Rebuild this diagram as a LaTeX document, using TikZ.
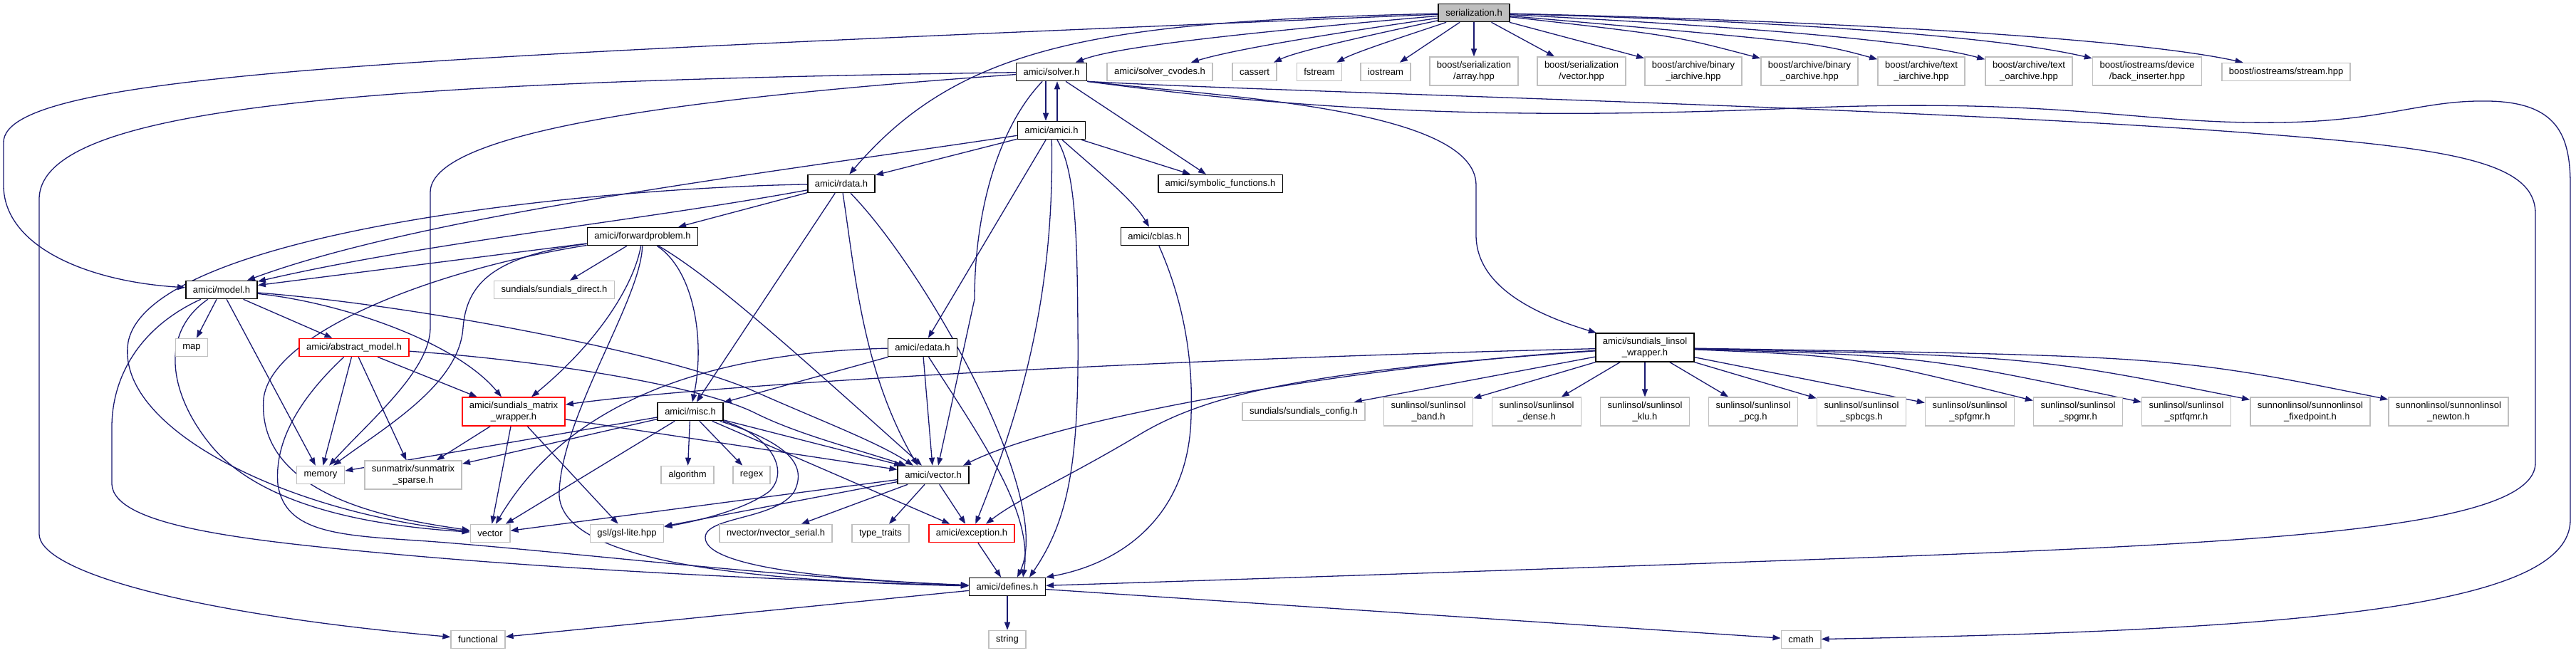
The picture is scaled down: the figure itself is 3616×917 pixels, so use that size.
\documentclass[tikz,border=0pt]{standalone}
\usepackage{fontspec}
\setmainfont{Liberation Sans}
\usetikzlibrary{arrows.meta,backgrounds}
\definecolor{edgeblue}{HTML}{191970}
\definecolor{extgray}{HTML}{BFBFBF}
\definecolor{truncred}{HTML}{FF0000}
\definecolor{rootgray}{HTML}{BFBFBF}
\tikzset{
  base/.style={rectangle, font=\fontsize{13}{15.5}\selectfont, inner xsep=10pt, inner ysep=6pt, minimum height=25pt, align=center, fill=white, line width=1.6pt},
  hdr/.style={base, draw=black},
  ext/.style={base, draw=extgray},
  trunc/.style={base, draw=truncred},
  rootnode/.style={base, draw=black, fill=rootgray},
  e/.style={draw=edgeblue, line width=1.3pt, -{Triangle[length=11pt,width=8pt]}}
}
\begin{document}
\begin{tikzpicture}[x=1pt,y=-1pt]
\useasboundingbox (0,0) rectangle (3616,917);
% nodes
\node[rootnode] (S) at (2069,18) {serialization.h};
\node[hdr] (SO) at (1476,101) {amici/solver.h};
\node[ext] (CV) at (1628,101) {amici/solver\_cvodes.h};
\node[ext] (CAS) at (1761,101) {cassert};
\node[ext] (FST) at (1852,101) {fstream};
\node[ext] (IOS) at (1945,101) {iostream};
\node[ext] (BAR) at (2069,100) {boost/serialization\\/array.hpp};
\node[ext] (BVE) at (2220,100) {boost/serialization\\/vector.hpp};
\node[ext] (BBI) at (2377,100) {boost/archive/binary\\\_iarchive.hpp};
\node[ext] (BBO) at (2540,100) {boost/archive/binary\\\_oarchive.hpp};
\node[ext] (BTI) at (2697,100) {boost/archive/text\\\_iarchive.hpp};
\node[ext] (BTO) at (2848,100) {boost/archive/text\\\_oarchive.hpp};
\node[ext] (BBK) at (3014,100) {boost/iostreams/device\\/back\_inserter.hpp};
\node[ext] (BST) at (3209,101) {boost/iostreams/stream.hpp};
\node[hdr] (AM) at (1476,183) {amici/amici.h};
\node[hdr] (RD) at (1181,258) {amici/rdata.h};
\node[hdr] (SYM) at (1713,258) {amici/symbolic\_functions.h};
\node[hdr] (FW) at (902,332) {amici/forwardproblem.h};
\node[hdr] (CB) at (1621,332) {amici/cblas.h};
\node[hdr] (MO) at (311,407) {amici/model.h};
\node[ext] (SD) at (778,407) {sundials/sundials\_direct.h};
\node[ext] (MAP) at (269,488) {map};
\node[trunc] (AB) at (497,488) {amici/abstract\_model.h};
\node[hdr] (ED) at (1295,488) {amici/edata.h};
\node[hdr] (LW) at (2309,488) {amici/sundials\_linsol\\\_wrapper.h};
\node[trunc] (SMW) at (721,578) {amici/sundials\_matrix\\\_wrapper.h};
\node[hdr] (MI) at (969,578) {amici/misc.h};
\node[ext] (CFG) at (1830,578) {sundials/sundials\_config.h};
\node[ext] (LBA) at (2005,578) {sunlinsol/sunlinsol\\\_band.h};
\node[ext] (LDE) at (2157,578) {sunlinsol/sunlinsol\\\_dense.h};
\node[ext] (LKL) at (2309,578) {sunlinsol/sunlinsol\\\_klu.h};
\node[ext] (LPC) at (2461,578) {sunlinsol/sunlinsol\\\_pcg.h};
\node[ext] (LSB) at (2613,578) {sunlinsol/sunlinsol\\\_spbcgs.h};
\node[ext] (LSF) at (2765,578) {sunlinsol/sunlinsol\\\_spfgmr.h};
\node[ext] (LSG) at (2917,578) {sunlinsol/sunlinsol\\\_spgmr.h};
\node[ext] (LST) at (3069,578) {sunlinsol/sunlinsol\\\_sptfqmr.h};
\node[ext] (NFP) at (3243,578) {sunnonlinsol/sunnonlinsol\\\_fixedpoint.h};
\node[ext] (NNE) at (3437,578) {sunnonlinsol/sunnonlinsol\\\_newton.h};
\node[ext] (MEM) at (450,667) {memory};
\node[ext] (SUN) at (580,667) {sunmatrix/sunmatrix\\\_sparse.h};
\node[ext] (ALG) at (965,667) {algorithm};
\node[ext] (REG) at (1055,667) {regex};
\node[hdr] (VH) at (1310,667) {amici/vector.h};
\node[ext] (VEC) at (688,749) {vector};
\node[ext] (GSL) at (880,749) {gsl/gsl-lite.hpp};
\node[ext] (NVS) at (1089,749) {nvector/nvector\_serial.h};
\node[ext] (TT) at (1236,749) {type\_traits};
\node[trunc] (EXC) at (1364,749) {amici/exception.h};
\node[hdr] (DEF) at (1414,824) {amici/defines.h};
\node[ext] (FUN) at (671,898) {functional};
\node[ext] (STR) at (1414,898) {string};
\node[ext] (CM) at (2528,898) {cmath};
\begin{scope}[on background layer]
% serialization.h
\draw[e] (S) .. controls (600,80) and (5,100) .. (5,200) -- (5,260) .. controls (5,345) and (120,395) .. (MO);
\draw[e] (S) .. controls (1550,30) and (1350,60) .. (RD);
\draw[e] (S) .. controls (1700,50) and (1560,68) .. (SO);
\draw[e] (S) .. controls (1850,50) and (1730,70) .. (CV);
\draw[e] (S) .. controls (1920,50) and (1820,72) .. (CAS);
\draw[e] (S) .. controls (1990,45) and (1905,72) .. (FST);
\draw[e] (S) -- (IOS);
\draw[e] (S) -- (BAR);
\draw[e] (S) -- (BVE);
\draw[e] (S) -- (BBI);
\draw[e] (S) .. controls (2350,50) .. (BBO);
\draw[e] (S) .. controls (2550,60) .. (BTI);
\draw[e] (S) .. controls (2500,40) and (2700,60) .. (BTO);
\draw[e] (S) .. controls (2500,30) and (2800,50) .. (BBK);
\draw[e] (S) .. controls (2600,30) and (3000,55) .. (BST);
% solver.h
\draw[e] ([xshift=-8pt]SO.south) -- ([xshift=-8pt]AM.north);
\draw[e] ([xshift=8pt]AM.north) -- ([xshift=8pt]SO.south);
\draw[e] (SO) .. controls (500,115) and (55,150) .. (55,280) -- (55,750) .. controls (55,800) and (250,860) .. (FUN);
\draw[e] (SO) .. controls (1000,135) and (604,180) .. (604,270) -- (604,460) .. controls (604,520) and (520,590) .. (MEM);
\draw[e] (SO) -- (SYM);
\draw[e] (SO) .. controls (1400,180) and (1368,300) .. (1368,420) -- ([xshift=7pt]VH.north);
\draw[e] (SO.south east) .. controls (1700,135) and (2072,150) .. (2072,260) -- (2072,330) .. controls (2072,400) and (2150,440) .. (LW);
\draw[e] (SO.south east) .. controls (1800,130) and (2700,150) .. (3200,190) .. controls (3450,210) and (3559,230) .. (3559,300) -- (3559,650) .. controls (3559,740) and (3200,760) .. (2700,780) .. controls (2300,795) and (1700,815) .. (DEF);
\draw[e] (SO.south east) .. controls (1900,165) and (2200,165) .. (2520,152) .. controls (2900,136) and (3000,175) .. (3200,172) .. controls (3350,170) and (3400,140) .. (3494,142) .. controls (3590,144) and (3608,190) .. (3608,260) -- (3608,730) .. controls (3608,850) and (3250,885) .. (CM);
% amici.h
\draw[e] (AM) -- (RD);
\draw[e] (AM) .. controls (1100,240) and (600,300) .. (MO);
\draw[e] (AM) -- (ED);
\draw[e] (AM) .. controls (1480,400) and (1440,560) .. (EXC);
\draw[e] (AM) .. controls (1510,240) and (1512,330) .. (1513,460) .. controls (1515,650) and (1500,730) .. ([xshift=31pt]DEF.north);
\draw[e] (AM) .. controls (1540,240) and (1590,280) .. (CB);
\draw[e] (AM) -- (SYM);
% rdata.h
\draw[e] (RD) .. controls (900,310) and (600,340) .. (MO);
\draw[e] (RD) -- (FW);
\draw[e] (RD) .. controls (800,265) and (210,330) .. (180,480) .. controls (160,600) and (400,720) .. (VEC);
\draw[e] (RD) -- (MI);
\draw[e] (RD) .. controls (1200,380) and (1210,520) .. ([xshift=-22pt]VH.north);
\draw[e] (RD) .. controls (1300,380) and (1480,700) .. ([xshift=14pt]DEF.north);
% forwardproblem.h
\draw[e] (FW) -- (MO);
\draw[e] (FW) .. controls (690,360) and (655,400) .. (650,460) .. controls (645,540) and (540,600) .. (MEM);
\draw[e] (FW) .. controls (600,380) and (380,470) .. (370,560) .. controls (360,700) and (560,730) .. (VEC);
\draw[e] (FW) -- (SD);
\draw[e] (FW) .. controls (890,400) and (840,480) .. (SMW);
\draw[e] (FW) .. controls (900,420) and (790,580) .. (785,690) .. controls (780,780) and (1000,815) .. (DEF);
\draw[e] (FW) .. controls (1000,390) and (1100,480) .. ([xshift=-16pt]VH.north);
\draw[e] (FW) .. controls (975,380) and (990,480) .. (MI);
% model.h
\draw[e] (MO) -- (MAP);
\draw[e] (MO) -- (AB);
\draw[e] (MO) -- (MEM);
\draw[e] (MO) .. controls (480,425) and (640,480) .. (SMW);
\draw[e] (MO) .. controls (600,430) and (950,500) .. (1060,550) .. controls (1150,590) and (1230,620) .. ([xshift=-28pt]VH.north);
\draw[e] (MO) .. controls (220,470) and (240,560) .. (300,630) .. controls (380,720) and (550,740) .. (VEC);
\draw[e] (MO) .. controls (195,460) and (157,530) .. (157,600) -- (157,680) .. controls (160,740) and (350,760) .. (574,780) .. controls (800,800) and (1100,815) .. (DEF);
% abstract_model.h
\draw[e] (AB) -- (MEM);
\draw[e] (AB) -- (SUN);
\draw[e] (AB) -- (SMW);
\draw[e] (AB) .. controls (750,505) and (980,540) .. (1060,580) .. controls (1120,610) and (1200,630) .. ([xshift=-38pt]VH.north);
\draw[e] (AB) .. controls (420,560) and (385,620) .. (390,680) .. controls (400,750) and (480,752) .. (600,760) .. controls (800,775) and (1100,812) .. (DEF);
% sundials_matrix_wrapper.h
\draw[e] (SMW) -- (SUN);
\draw[e] (SMW) -- (VEC);
\draw[e] (SMW) -- (GSL);
\draw[e] (SMW) -- (VH);
% misc.h
\draw[e] (MI) -- (MEM);
\draw[e] (MI) -- (SUN);
\draw[e] (MI) -- (VEC);
\draw[e] (MI) -- (ALG);
\draw[e] (MI) -- (REG);
\draw[e] (MI) -- ([xshift=-44pt]VH.north);
\draw[e] (MI) -- (EXC);
\draw[e] (MI) .. controls (1080,610) and (1110,660) .. (1080,690) .. controls (1040,720) and (960,735) .. (GSL);
\draw[e] (MI) .. controls (1100,620) and (1135,650) .. (1115,690) .. controls (1090,730) and (990,725) .. (990,755) .. controls (990,800) and (1200,815) .. (DEF);
% edata.h
\draw[e] (ED) -- (MI);
\draw[e] (ED) .. controls (1000,495) and (800,560) .. (VEC);
\draw[e] (ED) -- (VH);
\draw[e] (ED) .. controls (1380,620) and (1450,720) .. ([xshift=22pt]DEF.north);
% sundials_linsol_wrapper.h
\draw[e] (LW) .. controls (1600,505) and (1000,540) .. (SMW);
\draw[e] (LW) .. controls (1950,510) and (1500,580) .. ([xshift=42pt]VH.north);
\draw[e] (LW) .. controls (1850,520) and (1700,550) .. (1600,610) .. controls (1500,670) and (1430,700) .. ([xshift=20pt]EXC.north);
\draw[e] (LW) -- (CFG);
\draw[e] (LW) -- (LBA);
\draw[e] (LW) -- (LDE);
\draw[e] (LW) -- (LKL);
\draw[e] (LW) -- (LPC);
\draw[e] (LW) -- (LSB);
\draw[e] (LW) -- (LSF);
\draw[e] (LW) .. controls (2600,500) .. (LSG);
\draw[e] (LW) .. controls (2700,500) .. (LST);
\draw[e] (LW) .. controls (2850,500) .. (NFP);
\draw[e] (LW) .. controls (3050,500) .. (NNE);
% vector.h, exception.h, cblas.h, defines.h
\draw[e] (VH) -- (VEC);
\draw[e] (VH) -- (GSL);
\draw[e] (VH) -- (NVS);
\draw[e] (VH) -- (TT);
\draw[e] (VH) -- (EXC);
\draw[e] (EXC) -- (DEF);
\draw[e] (CB) .. controls (1660,420) and (1675,500) .. (1672,583) .. controls (1670,720) and (1580,790) .. (DEF.north east);
\draw[e] (DEF) -- (STR);
\draw[e] (DEF) -- (FUN);
\draw[e] (DEF) -- (CM);
\end{scope}
\end{tikzpicture}
\end{document}
